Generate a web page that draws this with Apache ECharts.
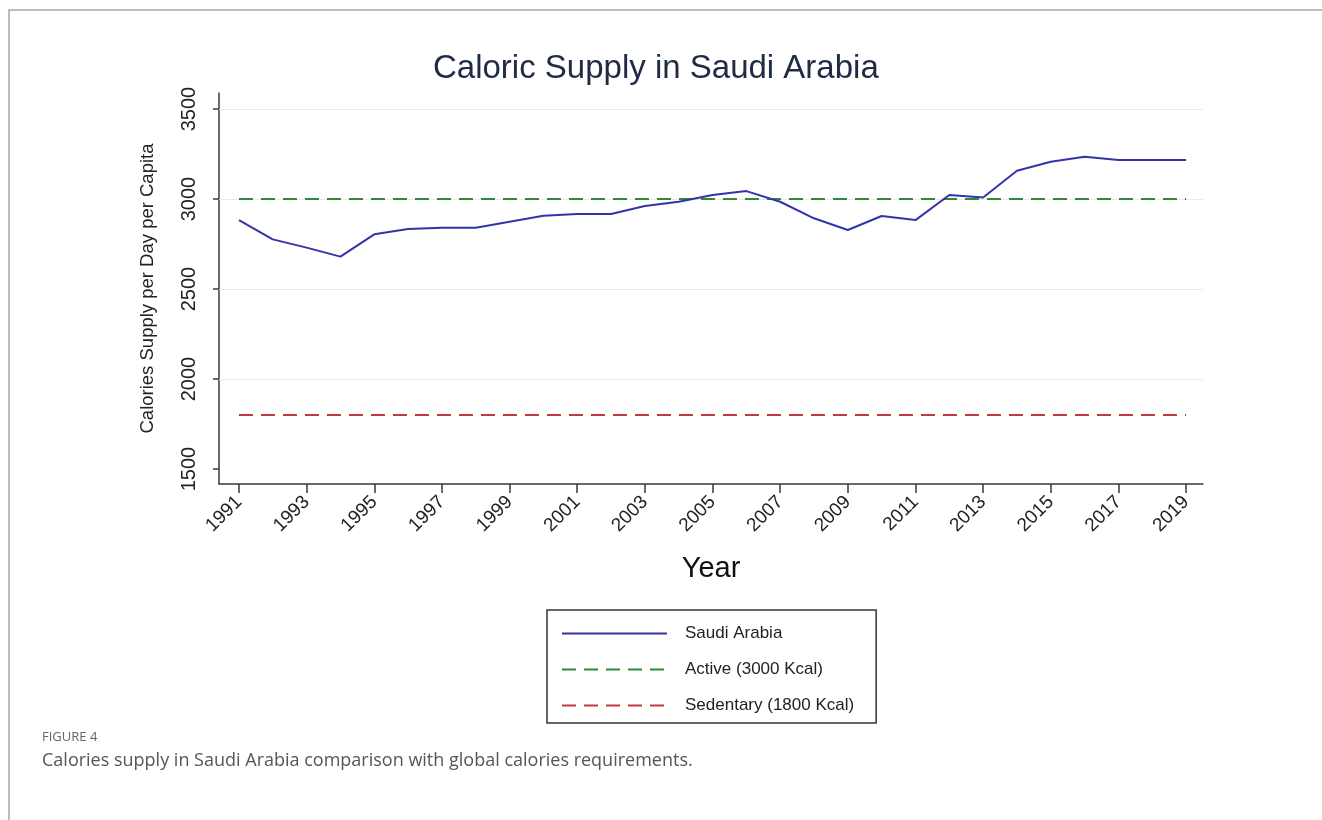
<!DOCTYPE html>
<html><head><meta charset="utf-8">
<script src="https://cdn.jsdelivr.net/npm/echarts@6/dist/echarts.min.js"></script>
<style>html,body{margin:0;padding:0;background:#fff}#c{width:1322px;height:820px}</style>
</head><body><div id="c"></div>
<script>
const years = [1991,1992,1993,1994,1995,1996,1997,1998,1999,2000,2001,2002,2003,2004,2005,2006,2007,2008,2009,2010,2011,2012,2013,2014,2015,2016,2017,2018,2019];
const saudiKcal = [2883,2776,2730,2680,2804,2833,2841,2841,2874,2907,2917,2917,2961,2985,3022,3044,2985,2893,2828,2906,2883,3022,3009,3157,3207,3235,3217,3217,3217];
const thresholdYears = [1991, 2019];
const activeKcal = [3000, 3000];
const sedentaryKcal = [1800, 1800];
const xTickYears = [1991,1993,1995,1997,1999,2001,2003,2005,2007,2009,2011,2013,2015,2017,2019];
const yTickValues = [1500,2000,2500,3000,3500];
const yGridValues = [2000,2500,3000,3500];
const seriesNames = ['Saudi Arabia','Active (3000 Kcal)','Sedentary (1800 Kcal)'];

const zip = (xs, ys) => xs.map((x, i) => [x, ys[i]]);
const axisColor = '#3a3a3a';

const chart = echarts.init(document.getElementById('c'), null, {renderer: 'canvas'});
chart.setOption({
  animation: false,
  textStyle: {fontFamily: 'Liberation Sans'},
  graphic: [{
    type: 'rect', silent: true, z: -10,
    shape: {x: 9, y: 10, width: 1400, height: 900},
    style: {fill: 'none', stroke: '#a8a8a8', lineWidth: 1.5}
  }],
  title: [
    {text: 'Caloric Supply in Saudi Arabia', left: 433, top: 52, padding: 0,
     textStyle: {fontSize: 33, fontWeight: 'normal', color: '#1f2a44', fontFamily: 'Liberation Sans'}},
    {text: 'FIGURE 4', left: 42, top: 731, padding: 0,
     textStyle: {fontSize: 13, fontWeight: 'normal', color: '#666', fontFamily: 'Open Sans'}},
    {text: 'Calories supply in Saudi Arabia comparison with global calories requirements.', left: 42, top: 752, padding: 0,
     textStyle: {fontSize: 18, fontWeight: 'normal', color: '#555', fontFamily: 'Open Sans'}}
  ],
  legend: {
    data: seriesNames, orient: 'vertical', left: 547, top: 610,
    padding: [15, 22, 9, 14], itemWidth: 105, itemHeight: 14, itemGap: 19,
    borderColor: '#333', borderWidth: 1.5, selectedMode: false,
    itemStyle: {opacity: 0},
    textStyle: {fontSize: 17, color: '#222', padding: [0, 0, 0, 13]}
  },
  grid: {left: 219, right: 119, top: 93, bottom: 336, outerBoundsMode: 'none'},
  xAxis: {
    type: 'value', min: 1990.41, max: 2019.5,
    axisLine: {show: true, lineStyle: {color: axisColor, width: 1.5}},
    axisTick: {show: true, customValues: xTickYears, length: 9, lineStyle: {color: axisColor, width: 1.5}},
    axisLabel: {customValues: xTickYears, rotate: 45, fontSize: 19, color: '#222', margin: 15, formatter: v => String(v)},
    splitLine: {show: false},
    name: 'Year', nameLocation: 'middle', nameGap: 70,
    nameTextStyle: {fontSize: 29, color: '#111'}
  },
  yAxis: {
    type: 'value', min: 1417, max: 3589,
    axisLine: {show: true, lineStyle: {color: axisColor, width: 1.5}},
    axisTick: {show: true, customValues: yTickValues, length: 6, lineStyle: {color: axisColor, width: 1.5}},
    axisLabel: {customValues: yTickValues, rotate: 90, fontSize: 20, color: '#222', margin: 20, formatter: v => String(v)},
    splitLine: {show: false},
    name: 'Calories Supply per Day per Capita', nameLocation: 'middle', nameGap: 62,
    nameTextStyle: {fontSize: 18.5, color: '#222'}
  },
  series: [
    {name: seriesNames[0], type: 'line', data: zip(years, saudiKcal), symbol: 'none', z: 4,
     lineStyle: {color: '#3434a8', width: 2}, itemStyle: {color: '#3434a8'},
     markLine: {silent: true, symbol: 'none', z: 1, label: {show: false},
       lineStyle: {color: '#e8eaed', width: 1.2, type: 'solid'},
       emphasis: {disabled: true},
       data: yGridValues.map(v => ({yAxis: v}))}},
    {name: seriesNames[1], type: 'line', data: zip(thresholdYears, activeKcal), symbol: 'none', z: 3,
     lineStyle: {color: '#2f8a36', width: 2, type: [14, 8]}, itemStyle: {color: '#2f8a36'}},
    {name: seriesNames[2], type: 'line', data: zip(thresholdYears, sedentaryKcal), symbol: 'none', z: 3,
     lineStyle: {color: '#c23a3e', width: 2, type: [14, 8]}, itemStyle: {color: '#c23a3e'}}
  ]
});
</script></body></html>
